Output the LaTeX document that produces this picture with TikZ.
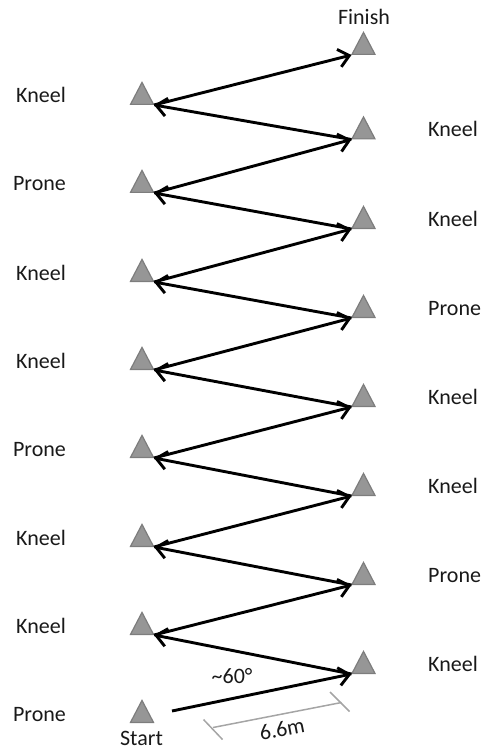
\documentclass[tikz,border=0pt]{standalone}
\usepackage{fontspec}
\setmainfont{Carlito}
\usetikzlibrary{arrows.meta,calc}
\definecolor{trifill}{RGB}{150,150,150}
\definecolor{triedge}{RGB}{125,125,125}
\definecolor{txt}{RGB}{25,25,25}
\definecolor{dimgray}{RGB}{165,165,165}
\begin{document}
\begin{tikzpicture}[x=1pt,y=-1pt,
  tri/.style={fill=trifill,draw=triedge,line width=1.2pt,line join=miter},
  zig/.style={line width=2.9pt,-{Straight Barb[length=10.5pt,width=18pt]}},
  lab/.style={font=\fontsize{22}{26}\selectfont,text=txt,inner sep=0pt},
  dimline/.style={draw=dimgray,line width=1.5pt}
]
\useasboundingbox (0,0) rectangle (486,751);
% left triangles (base centre), corner = bottom-right
\foreach \n/\y in {L1/105,L2/193,L3/282,L4/370,L5/458,L6/547,L7/635,S/723}{
  \coordinate (\n) at (142,\y);
  \coordinate (\n c) at (154,\y);
  \draw[tri] (\n) ++(-11.5,-0.6) -- ++(23,0) -- ++(-11.5,-22) -- cycle;
}
% right triangles, corner = bottom-left
\foreach \n/\y in {F/55,R7/139.5,R6/229,R5/318,R4/407,R3/496,R2/585,R1/674}{
  \coordinate (\n) at (363.5,\y);
  \coordinate (\n c) at (351.5,\y);
  \draw[tri] (\n) ++(-11.5,-0.6) -- ++(23,0) -- ++(-11.5,-22) -- cycle;
}
% zig-zag path
\coordinate (S0) at (172,711);
\draw[zig] (S0) -- (R1c);
\draw[zig] (R1c) -- (L7c);
\draw[zig] (L7c) -- (R2c);
\draw[zig] (R2c) -- (L6c);
\draw[zig] (L6c) -- (R3c);
\draw[zig] (R3c) -- (L5c);
\draw[zig] (L5c) -- (R4c);
\draw[zig] (R4c) -- (L4c);
\draw[zig] (L4c) -- (R5c);
\draw[zig] (R5c) -- (L3c);
\draw[zig] (L3c) -- (R6c);
\draw[zig] (R6c) -- (L2c);
\draw[zig] (L2c) -- (R7c);
\draw[zig] (R7c) -- (L1c);
\draw[zig] (L1c) -- (Fc);
% left labels
\node[lab,anchor=base] (tL1) at (41,103) {Kneel};
\node[lab,anchor=base] (tL2) at (39.5,191) {Prone};
\node[lab,anchor=base] (tL3) at (41,280) {Kneel};
\node[lab,anchor=base] (tL4) at (41,368) {Kneel};
\node[lab,anchor=base] (tL5) at (39.5,456) {Prone};
\node[lab,anchor=base] (tL6) at (41,545) {Kneel};
\node[lab,anchor=base] (tL7) at (41,633) {Kneel};
\node[lab,anchor=base] (tS) at (39.5,721) {Prone};
% right labels
\node[lab,anchor=base west] (tR7) at (428,137) {Kneel};
\node[lab,anchor=base west] (tR6) at (428,226.5) {Kneel};
\node[lab,anchor=base west] (tR5) at (428,315.5) {Prone};
\node[lab,anchor=base west] (tR4) at (428,404.5) {Kneel};
\node[lab,anchor=base west] (tR3) at (428,493.5) {Kneel};
\node[lab,anchor=base west] (tR2) at (428,582.5) {Prone};
\node[lab,anchor=base west] (tR1) at (428,671.5) {Kneel};
% start / finish
\node[lab,anchor=base] (start) at (141.5,745) {Start};
\node[lab,anchor=base] (finish) at (364,25) {Finish};
% angle
\node[lab,anchor=base west] (ang) at (211.5,683) {\textasciitilde60°};
% dimension
\coordinate (D1) at (213,727.5);
\coordinate (D2) at (341.5,702.5);
\coordinate (T1a) at (203.5,719.5);
\coordinate (T1b) at (222.5,739.5);
\coordinate (T2a) at (330,692);
\coordinate (T2b) at (349.5,711.5);
\draw[dimline] (D1) -- (D2);
\draw[dimline] (T1a) -- (T1b);
\draw[dimline] (T2a) -- (T2b);
\node[lab,rotate=11] (dist) at (282,729) {6.6m};
\end{tikzpicture}
\end{document}
